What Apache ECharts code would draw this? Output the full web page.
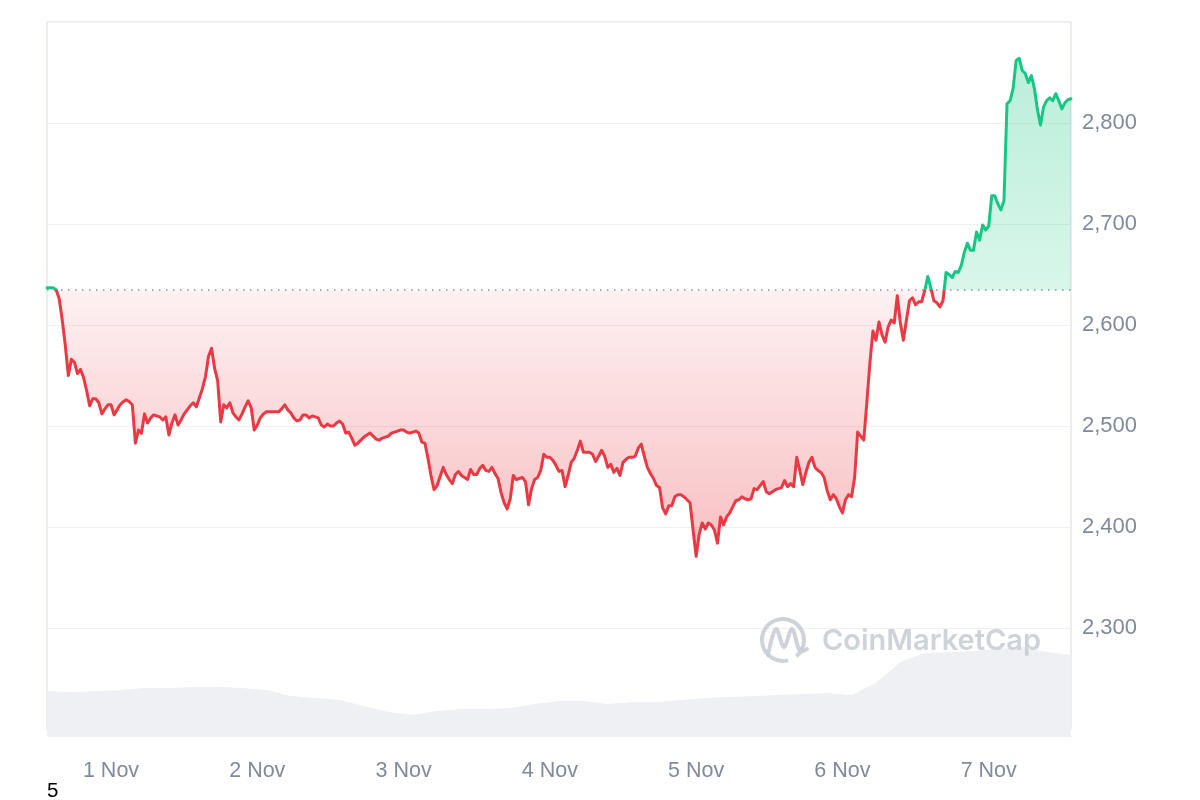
<!DOCTYPE html>
<html>
<head>
<meta charset="utf-8">
<script src="https://cdn.jsdelivr.net/npm/echarts@6/dist/echarts.min.js"></script>
<style>
html,body{margin:0;padding:0;background:#fff;}
#chart{width:1200px;height:800px;}
</style>
</head>
<body>
<div id="chart"></div>
<script>
// ---- data ----
const startTime = new Date(2024, 9, 31, 13, 30).getTime();
const priceStepMinutes = 30;
const prices = [
  2637, 2637, 2637, 2635, 2626, 2605, 2580, 2550, 2566, 2563,
  2552, 2556, 2548, 2535, 2520, 2527, 2527, 2523, 2512, 2517,
  2521, 2521, 2511, 2516, 2521, 2524, 2526, 2524, 2521, 2483,
  2496, 2493, 2512, 2503, 2508, 2511, 2510, 2509, 2506, 2509,
  2491, 2503, 2511, 2501, 2506, 2512, 2516, 2520, 2523, 2519,
  2528, 2537, 2549, 2569, 2577, 2557, 2545, 2504, 2521, 2518,
  2523, 2513, 2509, 2506, 2512, 2519, 2525, 2518, 2496, 2501,
  2508, 2512, 2514, 2514, 2514, 2514, 2514, 2517, 2521, 2516,
  2513, 2508, 2505, 2506, 2511, 2511, 2508, 2510, 2509, 2508,
  2501, 2499, 2502, 2500, 2500, 2503, 2505, 2502, 2493, 2494,
  2488, 2481, 2483, 2486, 2489, 2491, 2493, 2490, 2487, 2486,
  2488, 2489, 2490, 2493, 2494, 2495, 2496, 2496, 2494, 2493,
  2494, 2495, 2493, 2484, 2483, 2468, 2451, 2437, 2441, 2450,
  2459, 2452, 2447, 2443, 2452, 2455, 2451, 2449, 2447, 2457,
  2452, 2452, 2458, 2461, 2456, 2455, 2459, 2453, 2448, 2434,
  2424, 2418, 2428, 2451, 2447, 2448, 2449, 2445, 2422, 2438,
  2447, 2449, 2456, 2472, 2469, 2469, 2466, 2461, 2455, 2456,
  2440, 2451, 2464, 2468, 2476, 2485, 2474, 2474, 2474, 2472,
  2465, 2470, 2476, 2470, 2459, 2462, 2454, 2458, 2451, 2464,
  2467, 2469, 2469, 2470, 2478, 2482, 2470, 2459, 2453, 2448,
  2441, 2439, 2419, 2413, 2421, 2421, 2430, 2432, 2432, 2430,
  2427, 2424, 2397, 2371, 2393, 2404, 2398, 2404, 2402, 2397,
  2384, 2410, 2402, 2410, 2414, 2420, 2426, 2427, 2430, 2428,
  2427, 2428, 2438, 2437, 2441, 2445, 2435, 2433, 2435, 2437,
  2438, 2439, 2446, 2440, 2443, 2440, 2469, 2456, 2442, 2454,
  2464, 2469, 2459, 2456, 2454, 2449, 2436, 2427, 2432, 2428,
  2420, 2414, 2427, 2432, 2430, 2449, 2494, 2490, 2486, 2523,
  2562, 2594, 2585, 2603, 2590, 2583, 2598, 2605, 2602, 2629,
  2602, 2585, 2605, 2624, 2627, 2620, 2623, 2623, 2634, 2648,
  2637, 2624, 2622, 2618, 2624, 2652, 2650, 2647, 2653, 2652,
  2659, 2672, 2681, 2674, 2674, 2692, 2684, 2699, 2694, 2698,
  2728, 2728, 2720, 2714, 2723, 2819, 2822, 2834, 2862, 2864,
  2852, 2849, 2840, 2847, 2834, 2813, 2798, 2816, 2822, 2825,
  2822, 2829, 2822, 2814, 2820, 2823, 2824
];
const openPrice = 2634.5;
const volumeStepMinutes = 240;
const volumes = [
  46, 45, 46, 47, 49, 49, 50, 50, 49, 47,
  41, 39, 37, 31, 25, 22, 26, 28, 28, 29,
  33, 36, 36, 33, 35, 35, 37, 39, 40, 41,
  42, 43, 44, 42, 54, 75, 84, 85, 86, 88,
  90, 85, 82
];
const dayLabels = ['1 Nov', '2 Nov', '3 Nov', '4 Nov', '5 Nov', '6 Nov', '7 Nov'];
const priceTicks = [2300, 2400, 2500, 2600, 2700, 2800];
const cornerText = '5';
const watermarkText = 'CoinMarketCap';

// ---- build ----
const priceData = prices.map((v, i) => [startTime + i * priceStepMinutes * 60000, v]);
const volumeData = volumes.map((v, i) => [startTime + i * volumeStepMinutes * 60000, v]);
const tMin = priceData[0][0];
const tMax = priceData[priceData.length - 1][0];

const UP = '#16c784', DOWN = '#ea3943', GREY = '#808a9d', WM = '#c9ced6';
const DAY = 24 * 3600 * 1000;

const yMin = 2200, yMax = 2900;
const gridTop = 22, gridBottomPx = 729;
const baseY = gridTop + (yMax - openPrice) / (yMax - yMin) * (gridBottomPx - gridTop);
const baseOff = (baseY - gridTop) / (gridBottomPx - gridTop);

const lineColor = new echarts.graphic.LinearGradient(0, gridTop, 0, gridBottomPx, [
  {offset: 0, color: UP},
  {offset: baseOff, color: UP},
  {offset: baseOff, color: DOWN},
  {offset: 1, color: DOWN}
], true);
const areaColor = new echarts.graphic.LinearGradient(0, gridTop, 0, gridBottomPx, [
  {offset: 0, color: 'rgba(22,199,132,0.32)'},
  {offset: baseOff, color: 'rgba(22,199,132,0.16)'},
  {offset: baseOff, color: 'rgba(234,57,67,0.07)'},
  {offset: 0.72, color: 'rgba(234,57,67,0.30)'},
  {offset: 1, color: 'rgba(234,57,67,0.34)'}
], true);

const chart = echarts.init(document.getElementById('chart'), null, {renderer: 'canvas'});
chart.setOption({
  animation: false,
  backgroundColor: '#ffffff',
  grid: [
    {left: 47, right: 129, top: gridTop, bottom: 800 - gridBottomPx, show: true,
     borderColor: '#e6e8eb', borderWidth: 1.5, backgroundColor: 'transparent', containLabel: false},
    {left: 47, right: 129, top: 637, bottom: 63, containLabel: false}
  ],
  xAxis: [
    {type: 'time', gridIndex: 0, min: tMin, max: tMax, minInterval: DAY, maxInterval: DAY,
     axisLine: {show: false}, axisTick: {show: false}, axisLabel: {show: false}, splitLine: {show: false}},
    {type: 'time', gridIndex: 1, min: tMin, max: tMax, minInterval: DAY, maxInterval: DAY,
     axisLine: {show: false}, axisTick: {show: false}, splitLine: {show: false},
     axisLabel: {
       show: true, margin: 23, fontSize: 21.5, color: GREY,
       fontFamily: 'Liberation Sans, Arial, sans-serif',
       hideOverlap: false,
       formatter: function (val) {
         const d = new Date(val);
         if (d.getHours() !== 0 || d.getMinutes() !== 0) return '';
         const idx = d.getDate() - 1;
         return (d.getMonth() === 10 && dayLabels[idx]) ? dayLabels[idx] : '';
       }
     }}
  ],
  yAxis: [
    {type: 'value', gridIndex: 0, position: 'right', min: yMin, max: yMax, interval: 100,
     axisLine: {show: false}, axisTick: {show: false},
     splitLine: {show: true, lineStyle: {color: '#eef0f3', width: 1.2}},
     axisLabel: {
       margin: 11, fontSize: 22, color: GREY, fontFamily: 'Liberation Sans, Arial, sans-serif',
       formatter: function (v) {
         return priceTicks.indexOf(v) >= 0 ? v.toLocaleString('en-US') : '';
       }
     }},
    {type: 'value', gridIndex: 1, min: 0, max: 100, show: false,
     splitLine: {show: false}, axisLabel: {show: false}}
  ],
  series: [
    {
      type: 'line', xAxisIndex: 0, yAxisIndex: 0, data: priceData,
      showSymbol: false, symbol: 'none', smooth: false, z: 5,
      lineStyle: {width: 3, join: 'round', cap: 'round', color: lineColor},
      itemStyle: {color: DOWN},
      areaStyle: {origin: openPrice, opacity: 1, color: areaColor},
      markLine: {
        silent: true, symbol: ['none', 'none'], label: {show: false},
        lineStyle: {color: '#8c939e', width: 1.5, type: [1.5, 5.5]},
        emphasis: {disabled: true},
        data: [{yAxis: openPrice}]
      }
    },
    {
      type: 'line', xAxisIndex: 1, yAxisIndex: 1, data: volumeData,
      showSymbol: false, symbol: 'none', z: 3,
      lineStyle: {width: 0},
      itemStyle: {color: '#eef0f4'},
      areaStyle: {color: '#eef0f4', opacity: 1}
    }
  ],
  graphic: [
    {type: 'text', x: 47, y: 781, z: 10,
     style: {text: cornerText, fontSize: 20.5, fill: '#000', fontFamily: 'Liberation Sans, Arial, sans-serif'}},
    {type: 'arc', z: 20, silent: true,
     shape: {cx: 783, cy: 640, r: 21, startAngle: Math.PI * 0.42, endAngle: Math.PI * 0.28, clockwise: true},
     style: {stroke: WM, lineWidth: 4, fill: null, opacity: 0.9}},
    {type: 'polyline', z: 20, silent: true,
     shape: {points: [[768, 655], [776, 629], [784, 647], [792, 629], [800, 651], [807, 649]], smooth: 0.35},
     style: {stroke: WM, lineWidth: 4, fill: null, opacity: 0.9, lineCap: 'round', lineJoin: 'round'}},
    {type: 'text', z: 20, silent: true, x: 822, y: 641,
     style: {text: watermarkText, fontSize: 29, fontWeight: 600, fontFamily: 'Inter, Open Sans, sans-serif',
             fill: WM, opacity: 0.9, verticalAlign: 'middle', align: 'left'}}
  ]
});
</script>
</body>
</html>
